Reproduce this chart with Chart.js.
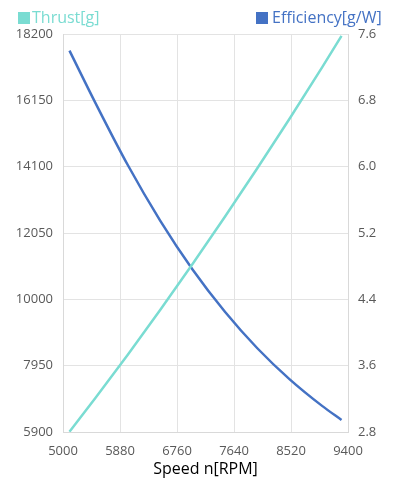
<!DOCTYPE html>
<html>
<head>
<meta charset="utf-8">
<script src="https://cdn.jsdelivr.net/npm/chart.js@4/dist/chart.umd.min.js"></script>
<style>
  html, body { margin: 0; padding: 0; background: #fff; }
  #wrap { width: 401px; height: 480px; position: relative; }
</style>
</head>
<body>
<div id="wrap"><canvas id="motorChart"></canvas></div>
<script>
// data
const speedRpm = [5100, 5500, 6000, 6500, 7000, 7500, 8000, 8500, 9000, 9300];
const thrustG = [5910, 6950, 8290, 9670, 11090, 12550, 14050, 15590, 17170, 18140];
const efficiencyGW = [7.40, 6.77, 6.02, 5.35, 4.76, 4.25, 3.81, 3.435, 3.115, 2.945];

const thrustColor = '#7adcd2';
const effColor = '#4472c4';
const fontName = "'Open Sans', 'Noto Sans', sans-serif";

// legend drawn at the two top corners
const cornerLegend = {
    id: 'cornerLegend',
    afterDraw(chart) {
        const ctx = chart.ctx;
        ctx.save();
        ctx.font = '16px ' + fontName;
        ctx.textBaseline = 'middle';
        const y = 18;
        ctx.fillStyle = thrustColor;
        ctx.fillRect(18, y - 6, 12, 12);
        ctx.fillText('Thrust[g]', 32, y);
        ctx.fillStyle = effColor;
        ctx.fillRect(256, y - 6, 12, 12);
        ctx.fillText('Efficiency[g/W]', 272, y);
        ctx.restore();
    }
};

const xy = (xs, ys) => xs.map((v, i) => ({ x: v, y: ys[i] }));
const plain = v => String(v);

new Chart(document.getElementById('motorChart').getContext('2d'), {
    type: 'line',
    data: {
        datasets: [
            {
                label: 'Thrust[g]',
                data: xy(speedRpm, thrustG),
                borderColor: thrustColor,
                borderWidth: 2.5,
                pointRadius: 0,
                cubicInterpolationMode: 'monotone',
                yAxisID: 'yThrust'
            },
            {
                label: 'Efficiency[g/W]',
                data: xy(speedRpm, efficiencyGW),
                borderColor: effColor,
                borderWidth: 2.5,
                pointRadius: 0,
                cubicInterpolationMode: 'monotone',
                yAxisID: 'yEff'
            }
        ]
    },
    options: {
        responsive: true,
        maintainAspectRatio: false,
        animation: false,
        layout: { padding: { top: 34, left: 0, right: 0, bottom: 0 } },
        plugins: { legend: { display: false }, tooltip: { enabled: false } },
        scales: {
            x: {
                type: 'linear',
                min: 5000,
                max: 9400,
                ticks: {
                    stepSize: 880,
                    color: '#595959',
                    font: { family: fontName, size: 13 },
                    padding: 11,
                    callback: plain
                },
                grid: { color: '#e3e3e3', drawTicks: false },
                border: { color: '#d9d9d9' },
                title: {
                    display: true,
                    text: 'Speed n[RPM]',
                    color: '#000',
                    font: { family: fontName, size: 16 },
                    padding: { top: 0, bottom: 1 }
                },
                afterFit(scale) { scale.height = 48; }
            },
            yThrust: {
                position: 'left',
                min: 5900,
                max: 18200,
                ticks: {
                    stepSize: 2050,
                    color: '#595959',
                    font: { family: fontName, size: 13 },
                    padding: 10,
                    callback: plain
                },
                grid: { color: '#e3e3e3', drawTicks: false },
                border: { color: '#d9d9d9' },
                afterFit(scale) { scale.width = 63; }
            },
            yEff: {
                position: 'right',
                min: 2.8,
                max: 7.6,
                ticks: {
                    stepSize: 0.8,
                    color: '#595959',
                    font: { family: fontName, size: 13 },
                    padding: 10,
                    callback: v => v.toFixed(1)
                },
                grid: { drawOnChartArea: false, drawTicks: false },
                border: { color: '#d9d9d9' },
                afterFit(scale) { scale.width = 53; }
            }
        }
    },
    plugins: [cornerLegend]
});
</script>
</body>
</html>
